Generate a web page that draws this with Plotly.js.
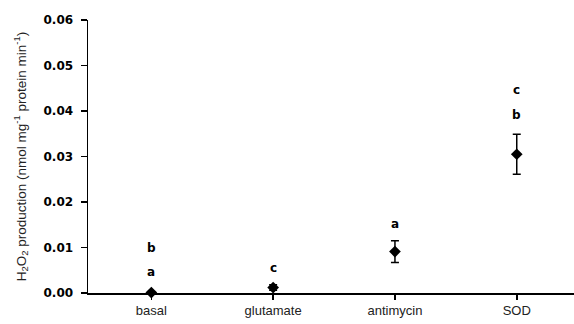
<!DOCTYPE html>
<html>
<head>
<meta charset="utf-8">
<script src="https://cdn.plot.ly/plotly-3.0.1.min.js"></script>
<style>html,body{margin:0;padding:0;background:#fff;}#chart{width:574px;height:324px;}</style>
</head>
<body>
<div id="chart"></div>
<script>
// Data
const categories = ["basal", "glutamate", "antimycin", "SOD"];
const means = [0.0001, 0.0012, 0.0091, 0.0305];
const errors = [0.0002, 0.0006, 0.0024, 0.0044];
// significance letters
const letterCats = ["basal", "basal", "glutamate", "antimycin", "SOD", "SOD"];
const letterText = ["a", "b", "c", "a", "b", "c"];
const letterY = [0.0047, 0.0099, 0.0054, 0.0152, 0.0391, 0.0446];
const yTicks = [0, 0.01, 0.02, 0.03, 0.04, 0.05, 0.06];

const trace = {
  type: "scatter",
  mode: "markers",
  x: categories,
  y: means,
  cliponaxis: false,
  marker: { symbol: "diamond", size: 9, color: "#000" },
  error_y: { type: "data", array: errors, visible: true, color: "#000", thickness: 1.5, width: 4 },
  showlegend: false,
  hoverinfo: "none"
};

const annotations = letterCats.map((c, i) => ({
  x: c, y: letterY[i], xref: "x", yref: "y",
  text: "<b>" + letterText[i] + "</b>",
  showarrow: false,
  font: { family: "DejaVu Sans", size: 12, color: "#000" }
}));

const layout = {
  width: 574, height: 324,
  margin: { l: 88, r: 0, t: 20, b: 31 },
  paper_bgcolor: "#fff", plot_bgcolor: "#fff",
  showlegend: false,
  xaxis: {
    type: "category",
    range: [-0.52, 3.47],
    showline: true, linecolor: "#000", linewidth: 1.5,
    showgrid: false, zeroline: false,
    ticks: "outside", ticklen: 5, tickwidth: 1.5, tickcolor: "#000",
    tickfont: { family: "Liberation Sans, Arial", size: 13, color: "#222" }
  },
  yaxis: {
    range: [0, 0.06],
    tickvals: yTicks,
    tickformat: ".2f",
    showline: true, linecolor: "#000", linewidth: 1.5,
    showgrid: false, zeroline: false,
    ticks: "outside", ticklen: 6, tickwidth: 1.5, tickcolor: "#000",
    ticklabelstandoff: 5,
    tickfont: { family: "DejaVu Sans", size: 12, color: "#000", weight: "bold" },
    title: {
      text: "H<sub>2</sub>O<sub>2</sub> production (nmol mg<sup>-1</sup> protein min<sup>-1</sup>)",
      font: { family: "Liberation Sans, Arial", size: 13.5, color: "#222" },
      standoff: 14
    }
  },
  annotations: annotations
};

Plotly.newPlot("chart", [trace], layout, { displayModeBar: false, staticPlot: true });
</script>
</body>
</html>
